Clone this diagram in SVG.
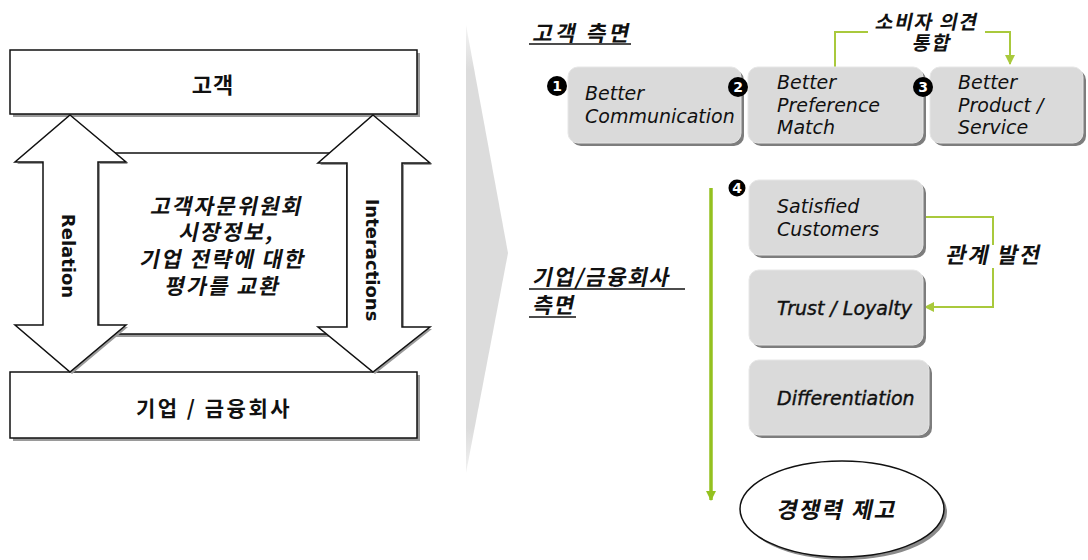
<svg xmlns="http://www.w3.org/2000/svg" width="1088" height="560" viewBox="0 0 1088 560">
  <style>
    .ko { font-family: "Noto Sans CJK KR", "Noto Sans", sans-serif; font-weight: 700; fill: #111; }
    .en { font-family: "DejaVu Sans", "Liberation Sans", sans-serif; font-style: italic; font-size: 19px; fill: #111; }
    .enb { font-family: "DejaVu Sans", "Liberation Sans", sans-serif; font-weight: 700; font-size: 18px; fill: #111; }
    .frame { fill: #fff; stroke: #111; stroke-width: 1.5; }
    .fshadow { fill: #9a9a9a; }
    .card { fill: #dadada; stroke: #e6e6e6; stroke-width: 1; }
    .cshadow { fill: #7d7d7d; }
    .num { fill: #000; }
    .numt { font-family: "DejaVu Sans", sans-serif; font-weight: 700; font-size: 14px; fill: #fff; text-anchor: middle; }
    .link { fill: none; stroke: #a9c93c; stroke-width: 2; }
    .flow { fill: none; stroke: #94c11f; stroke-width: 3.5; }
    .ul { stroke: #111; stroke-width: 1.5; }
  </style>
  <defs>
    <linearGradient id="chevFade" x1="0" y1="0" x2="0" y2="1">
      <stop offset="0" stop-color="#f4f4f4"/>
      <stop offset="0.1" stop-color="#dcdcdc"/>
      <stop offset="0.9" stop-color="#dcdcdc"/>
      <stop offset="1" stop-color="#f2f2f2"/>
    </linearGradient>
    <marker id="headLink" viewBox="0 0 10 10" refX="9" refY="5" markerWidth="5" markerHeight="5" orient="auto" markerUnits="strokeWidth">
      <path d="M0,0 L10,5 L0,10 z" fill="#a9c93c"/>
    </marker>
    <marker id="headFlow" viewBox="0 0 10 10" refX="9" refY="5" markerWidth="3" markerHeight="3" orient="auto" markerUnits="strokeWidth">
      <path d="M0,0 L10,5 L0,10 z" fill="#94c11f"/>
    </marker>
  </defs>

  <rect width="1088" height="560" fill="#fff"/>

  <!-- big transition chevron -->
  <polygon points="466,25 508,253 466,473" fill="url(#chevFade)"/>

  <!-- left panel: customer / company exchange -->
  <g id="customer">
    <rect class="fshadow" x="13" y="53" width="407" height="64"/>
    <rect class="frame" x="10" y="50" width="407" height="64"/>
    <text class="ko" x="213" y="93" font-size="22" letter-spacing="1" text-anchor="middle">고객</text>
  </g>

  <g id="company">
    <rect class="fshadow" x="13" y="375" width="407" height="66"/>
    <rect class="frame" x="10" y="372" width="407" height="66"/>
    <text class="ko" x="214" y="416" font-size="21" letter-spacing="2.5" text-anchor="middle">기업 / 금융회사</text>
  </g>

  <g id="exchange">
    <rect class="fshadow" x="100" y="156" width="250" height="181"/>
    <rect class="frame" x="97" y="153" width="250" height="181"/>
    <g class="ko" font-size="21.5" letter-spacing="2" text-anchor="middle">
      <text transform="translate(226,214) skewX(-12)">고객자문위원회</text>
      <text transform="translate(226,240) skewX(-12)">시장정보,</text>
      <text transform="translate(222,267) skewX(-12)">기업 전략에 대한</text>
      <text transform="translate(222,294) skewX(-12)">평가를 교환</text>
    </g>
  </g>

  <g id="relation">
    <polygon class="fshadow" points="72,117 128,164 100,164 100,327 128,327 72,374 17,327 45,327 45,164 17,164"/>
    <polygon class="frame" points="70,115 126,162 98,162 98,325 126,325 70,372 15,325 43,325 43,162 15,162"/>
    <text class="enb" x="68" y="256" text-anchor="middle" dominant-baseline="central" transform="rotate(90 68 256)">Relation</text>
  </g>

  <g id="interactions">
    <polygon class="fshadow" points="375,117 432,165 404,165 404,329 432,329 375,374 320,329 349,329 349,165 320,165"/>
    <polygon class="frame" points="373,115 430,163 402,163 402,327 430,327 373,372 318,327 347,327 347,163 318,163"/>
    <text class="enb" x="372" y="260" text-anchor="middle" dominant-baseline="central" transform="rotate(90 372 260)">Interactions</text>
  </g>

  <!-- section headings -->
  <g id="customer-side">
    <text class="ko" font-size="21.5" letter-spacing="3" transform="translate(532,41) skewX(-12)">고객 측면</text>
    <line class="ul" x1="529" y1="44" x2="631" y2="44"/>
  </g>

  <g id="company-side">
    <text class="ko" font-size="21.5" letter-spacing="1.5" transform="translate(532,285) skewX(-12)">기업/금융회사</text>
    <line class="ul" x1="529" y1="289" x2="685" y2="289"/>
    <text class="ko" font-size="21.5" letter-spacing="1.5" transform="translate(532,313) skewX(-12)">측면</text>
    <line class="ul" x1="529" y1="317" x2="576" y2="317"/>
  </g>

  <!-- connectors -->
  <g id="connectors">
    <path class="flow" d="M711,188 V500" marker-end="url(#headFlow)"/>
    <path class="link" d="M835,67 V32 H868"/>
    <path class="link" d="M985,32 H1010 V64" marker-end="url(#headLink)"/>
    <path class="link" d="M923,217 H993 V245"/>
    <path class="link" d="M993,268 V307 H925" marker-end="url(#headLink)"/>
  </g>

  <g class="ko" id="link-labels" text-anchor="middle">
    <text font-size="19.5" letter-spacing="1.5" transform="translate(926,29) skewX(-12)">소비자 의견</text>
    <text font-size="19.5" letter-spacing="1.5" transform="translate(931,50) skewX(-12)">통합</text>
    <text font-size="22" letter-spacing="2" transform="translate(993,263) skewX(-12)">관계 발전</text>
  </g>

  <!-- customer-side steps -->
  <g id="better-communication">
    <rect class="cshadow" x="571" y="70" width="173" height="76" rx="10"/>
    <rect class="card" x="568" y="67" width="173" height="76" rx="10"/>
    <text class="en" x="585" y="100">Better</text>
    <text class="en" x="585" y="123">Communication</text>
    <circle class="num" cx="557" cy="86" r="10"/>
    <text class="numt" x="557" y="91">1</text>
  </g>

  <g id="better-preference">
    <rect class="cshadow" x="751" y="70" width="175" height="76" rx="10"/>
    <rect class="card" x="748" y="67" width="175" height="76" rx="10"/>
    <text class="en" x="777" y="89">Better</text>
    <text class="en" x="777" y="112">Preference</text>
    <text class="en" x="777" y="134">Match</text>
    <circle class="num" cx="738" cy="87" r="10"/>
    <text class="numt" x="738" y="92">2</text>
  </g>

  <g id="better-product">
    <rect class="cshadow" x="933" y="70" width="153" height="76" rx="10"/>
    <rect class="card" x="930" y="67" width="153" height="76" rx="10"/>
    <text class="en" x="958" y="89">Better</text>
    <text class="en" x="958" y="112">Product /</text>
    <text class="en" x="958" y="134">Service</text>
    <circle class="num" cx="923" cy="87" r="10"/>
    <text class="numt" x="923" y="92">3</text>
  </g>

  <!-- company-side steps -->
  <g id="satisfied-customers">
    <rect class="cshadow" x="752" y="183" width="174" height="75" rx="10"/>
    <rect class="card" x="749" y="180" width="174" height="75" rx="10"/>
    <text class="en" x="777" y="213">Satisfied</text>
    <text class="en" x="777" y="236">Customers</text>
    <circle class="num" cx="737" cy="188" r="8.5"/>
    <text class="numt" x="737" y="192.5" font-size="12">4</text>
  </g>

  <g id="trust-loyalty">
    <rect class="cshadow" x="752" y="273" width="174" height="75" rx="10"/>
    <rect class="card" x="749" y="270" width="174" height="75" rx="10"/>
    <text class="en" x="777" y="315" stroke="#111" stroke-width="0.4">Trust / Loyalty</text>
  </g>

  <g id="differentiation">
    <rect class="cshadow" x="752" y="363" width="180" height="75" rx="10"/>
    <rect class="card" x="749" y="360" width="180" height="75" rx="10"/>
    <text class="en" x="777" y="405" stroke="#111" stroke-width="0.4">Differentiation</text>
  </g>

  <g id="competitiveness">
    <ellipse cx="845" cy="512" rx="102" ry="48" fill="#8a8a8a"/>
    <ellipse cx="842" cy="509" rx="102" ry="48" fill="#fff" stroke="#111" stroke-width="1.5"/>
    <text class="ko" font-size="22.5" letter-spacing="2" text-anchor="middle" transform="translate(836,518) skewX(-12)">경쟁력 제고</text>
  </g>
</svg>
